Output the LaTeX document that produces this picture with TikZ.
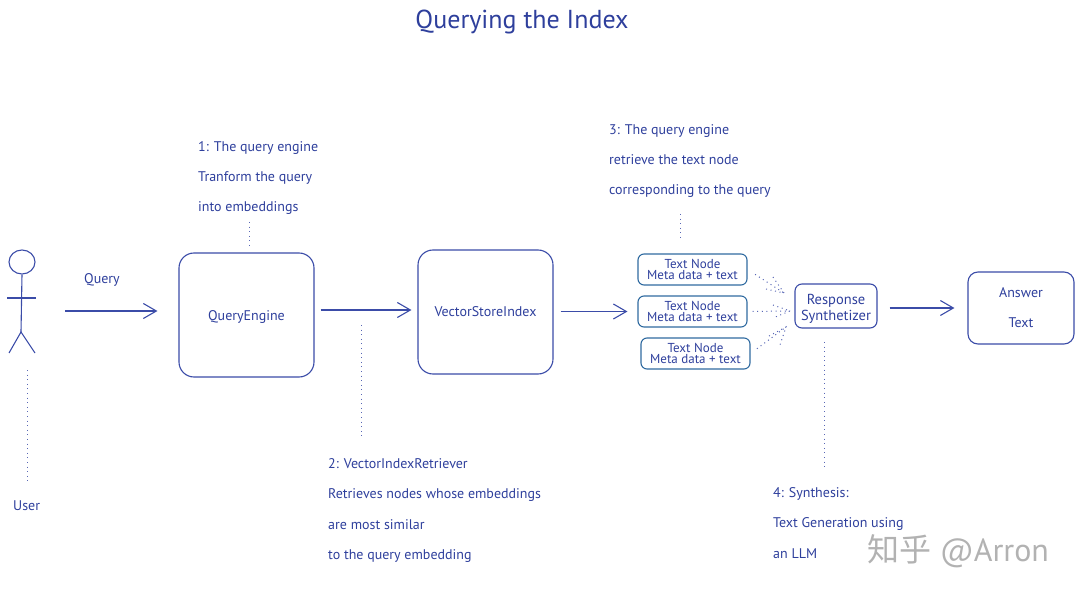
\documentclass[tikz,border=0pt]{standalone}
\usepackage{fontspec}
\setmainfont{PT Sans}
\newfontfamily\cjk{Noto Sans CJK SC}
\usetikzlibrary{arrows.meta,shapes.geometric}
\definecolor{inkblue}{HTML}{3B4CA8}
\definecolor{textblue}{HTML}{2E3F9C}
\definecolor{tealblue}{HTML}{2F6AA0}
\tikzset{
  x=1pt, y=-1pt,
  ink/.style={draw=inkblue, line width=1.1pt},
  note/.style={anchor=west, align=left, inner sep=0pt, text=textblue, font=\fontsize{14}{30.2}\selectfont},
  bigbox/.style={ink, rounded corners=15pt, inner sep=0pt, text=textblue, font=\fontsize{14}{16}\selectfont, minimum width=135pt, minimum height=124pt},
  textnode/.style={draw=tealblue, line width=1.1pt, rounded corners=6pt, inner sep=0pt, text=textblue, align=center, font=\fontsize{13}{11.5}\selectfont, minimum width=109pt, minimum height=31pt},
  flow/.style={ink, -{Straight Barb[length=13pt,width=15pt,line width=1.1pt]}},
  dots/.style={draw=inkblue!85, line width=1pt, dash pattern=on 1pt off 3.6pt},
}
\begin{document}
\begin{tikzpicture}
\useasboundingbox (0,0) rectangle (1080,596);

\node[text=textblue, inner sep=0pt, font=\fontsize{26}{28}\selectfont] (title) at (522,22) {Querying the Index};

% user
\node[ink, ellipse, inner sep=0pt, minimum width=26pt, minimum height=24pt] (head) at (22,262) {};
\coordinate (hip) at (21,332);
\coordinate (armL) at (7,298);
\coordinate (armR) at (36,298);
\coordinate (legL) at (9,353);
\coordinate (legR) at (35,353);
\draw[ink] (head.south) -- (hip);
\draw[ink] (armL) -- (armR);
\draw[ink] (legL) -- (hip) -- (legR);
\node[note] (user) at (13,506) {User};
\node[note] (query) at (84,280) {Query};

% boxes
\node[bigbox, text height=11pt, text depth=0pt] (engine) at (246.5,315) {QueryEngine};
\node[bigbox] (index) at (485.5,312) {VectorStoreIndex};
\node[textnode] (text1) at (692.5,269.5) {Text Node\\Meta data + text};
\node[textnode] (text2) at (692.5,311.5) {Text Node\\Meta data + text};
\node[textnode] (text3) at (695.5,353.5) {Text Node\\Meta data + text};
\node[ink, rounded corners=7pt, inner sep=0pt, align=center, text=textblue, font=\fontsize{14.5}{16}\selectfont, minimum width=82pt, minimum height=44pt] (synth) at (836,306) {\rule{0pt}{16pt}Response\\Synthetizer};
\node[ink, rounded corners=10pt, inner sep=0pt, align=center, text=textblue, font=\fontsize{14}{30.2}\selectfont, minimum width=106pt, minimum height=72pt] (answer) at (1021,308) {Answer\\Text};

% notes
\node[note] (note1) at (198,178) {1: The query engine\\Tranform the query\\into embeddings};
\node[note] (note2) at (328,510.5) {2: VectorIndexRetriever\\Retrieves nodes whose embeddings\\are most similar\\to the query embedding};
\node[note] (note3) at (609,161) {3: The query engine\\retrieve the text node\\corresponding to the query};
\node[note] (note4) at (773,523) {4: Synthesis:\\Text Generation using\\an LLM};

\node[anchor=west, inner sep=0pt, text=black!30, font=\fontsize{32}{32}\selectfont] (mark) at (867,551) {{\cjk 知乎} @Arron};

% arrows
\coordinate (userout) at (65,311);
\draw[flow, shorten >=21pt] (userout) -- (engine.west |- userout);
\draw[flow, shorten <=6pt, shorten >=6pt] (engine.east |- 0,310) -- (index.west |- 0,310);
\draw[flow, shorten <=7pt, shorten >=10pt] (index.east |- text2) -- (text2.west);
\draw[flow, shorten <=12pt, shorten >=13pt] (synth.east |- 0,308) -- (answer.west);

% dotted arrows
\coordinate (tip1) at (784,293);
\coordinate (tip2) at (790,311);
\coordinate (tip3) at (786,327);
\draw[dots, shorten <=9pt] (text1.east) -- (tip1);
\draw[dots] (773,277) -- (tip1) -- (766,289);
\draw[dots, shorten <=5pt] (text2.east) -- (tip2);
\draw[dots] (773,305) -- (tip2) -- (773,318);
\draw[dots, shorten <=8pt] (text3.east) -- (tip3);
\draw[dots] (769,336) -- (tip3) -- (780,345);

% dotted leaders
\coordinate (d1a) at (249,222);
\coordinate (d2b) at (361,440);
\coordinate (d3a) at (680,214);
\coordinate (d4b) at (824,468);
\coordinate (d0b) at (27,485);
\coordinate (d0a) at (27,370);
\coordinate (d1b) at (249,248);
\coordinate (d2a) at (361,325);
\coordinate (d3b) at (680,240);
\coordinate (d4a) at (824,342);
\draw[dots] (d1a) -- (d1b);
\draw[dots] (d2a) -- (d2b);
\draw[dots] (d3a) -- (d3b);
\draw[dots] (d4a) -- (d4b);
\draw[dots] (d0a) -- (d0b);
\end{tikzpicture}
\end{document}
